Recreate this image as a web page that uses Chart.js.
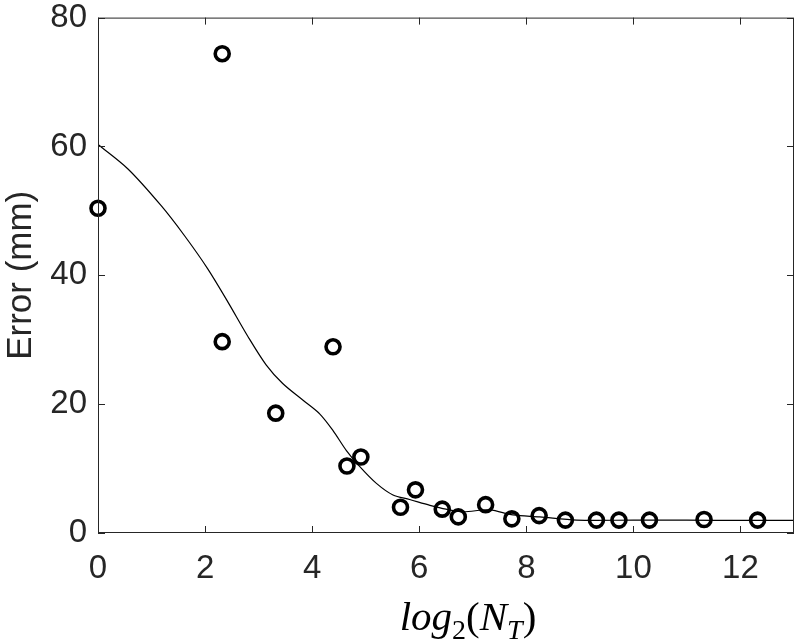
<!DOCTYPE html>
<html lang="en">
<head>
    <meta charset="UTF-8">
    <title>Error vs log2(NT)</title>
    <style>
        body { margin: 0; background: #fff; }
        canvas { display: block; }
    </style>
</head>
<body>
    <canvas id="myChart" width="800" height="643"></canvas>

    <script src="https://cdn.jsdelivr.net/npm/chart.js"></script>
    <script>
        // measured points
        const logN = [0, 2.32, 2.32, 3.32, 4.39, 4.65, 4.91, 5.65, 5.93, 6.43, 6.73, 7.24, 7.73, 8.24, 8.73, 9.31, 9.73, 10.3, 11.32, 12.32];
        const errMm = [50.4, 74.4, 29.7, 18.6, 28.9, 10.4, 11.8, 4.0, 6.7, 3.7, 2.5, 4.4, 2.2, 2.7, 2.0, 2.0, 2.0, 2.0, 2.1, 2.0];

        // fitted curve
        const fitX = [0, 0.56, 1.18, 1.62, 2.05, 2.43, 2.8, 3.14, 3.45, 3.83, 4.14, 4.39, 4.64, 4.89, 5.2, 5.51, 5.82, 6.2, 6.5, 6.82, 7.32, 7.75, 8.25, 8.94, 10, 11, 12, 13];
        const fitY = [60.3, 56.5, 50.8, 46.1, 41.0, 35.8, 30.5, 26.1, 23.2, 20.6, 18.5, 15.9, 12.8, 10.3, 7.7, 5.9, 5.2, 4.3, 3.7, 3.3, 3.6, 2.8, 2.5, 2.0, 2.0, 2.0, 1.95, 1.95];

        const xTicks = [0, 2, 4, 6, 8, 10, 12];
        const yTicks = [0, 20, 40, 60, 80];

        const axisColor = '#262626';
        const tickFont = { family: 'Liberation Sans, Arial, sans-serif', size: 33 };
        // small line height so the top label does not push the plot down
        const yTickFont = { family: 'Liberation Sans, Arial, sans-serif', size: 33, lineHeight: 0.4 };

        // box round the plot with inward ticks on all four sides, plus the x title
        const boxPlugin = {
            id: 'box',
            afterDraw(chart) {
                const c = chart.ctx;
                const a = chart.chartArea;
                const xs = chart.scales.x, ys = chart.scales.y;
                const len = 7;
                c.save();
                c.strokeStyle = axisColor;
                c.lineWidth = 1;
                c.strokeRect(a.left + 0.5, a.top + 0.5, a.right - a.left - 1, a.bottom - a.top - 1);
                c.beginPath();
                xTicks.forEach(v => {
                    const px = Math.round(xs.getPixelForValue(v)) + 0.5;
                    c.moveTo(px, a.bottom); c.lineTo(px, a.bottom - len);
                    c.moveTo(px, a.top); c.lineTo(px, a.top + len);
                });
                yTicks.forEach(v => {
                    const py = Math.round(ys.getPixelForValue(v)) + 0.5;
                    c.moveTo(a.left, py); c.lineTo(a.left + len, py);
                    c.moveTo(a.right, py); c.lineTo(a.right - len, py);
                });
                c.stroke();

                // x title: log2(NT) with subscripts
                const big = 41, small = 28;
                const parts = [
                    { t: 'log', f: 'italic ' + big + 'px "Liberation Serif", serif', dy: 0 },
                    { t: '2', f: small + 'px "Liberation Serif", serif', dy: 9 },
                    { t: '(', f: big + 'px "Liberation Serif", serif', dy: 0 },
                    { t: 'N', f: 'italic ' + big + 'px "Liberation Serif", serif', dy: 0 },
                    { t: 'T', f: 'italic ' + small + 'px "Liberation Serif", serif', dy: 9 },
                    { t: ')', f: big + 'px "Liberation Serif", serif', dy: 0 }
                ];
                let total = 0;
                parts.forEach(p => { c.font = p.f; p.w = c.measureText(p.t).width; total += p.w; });
                let x = 468 - total / 2;
                const base = 630;
                c.fillStyle = '#000';
                c.textBaseline = 'alphabetic';
                parts.forEach(p => {
                    c.font = p.f;
                    c.fillText(p.t, x, base + p.dy);
                    x += p.w;
                });
                c.restore();
            }
        };

        const ctx = document.getElementById('myChart').getContext('2d');
        const myChart = new Chart(ctx, {
            type: 'scatter',
            data: {
                datasets: [{
                    label: 'Fit',
                    data: fitX.map((x, i) => ({ x: x, y: fitY[i] })),
                    showLine: true,
                    borderColor: '#000',
                    borderWidth: 1.2,
                    pointRadius: 0,
                    tension: 0.3,
                    order: 2
                }, {
                    label: 'Error',
                    data: logN.map((x, i) => ({ x: x, y: errMm[i] })),
                    showLine: false,
                    clip: false,
                    pointStyle: 'circle',
                    pointRadius: 7,
                    pointBorderWidth: 3.6,
                    pointBorderColor: '#000',
                    pointBackgroundColor: 'rgba(0,0,0,0)',
                    order: 1
                }]
            },
            options: {
                responsive: false,
                animation: false,
                layout: { autoPadding: false, padding: { top: 16, right: 6, left: 0, bottom: 0 } },
                plugins: {
                    legend: { display: false },
                    tooltip: { enabled: false }
                },
                scales: {
                    x: {
                        type: 'linear',
                        min: 0,
                        max: 13,
                        afterBuildTicks: s => { s.ticks = xTicks.map(v => ({ value: v })); },
                        afterFit: s => { s.height = 110; },
                        grid: { display: false, drawTicks: false },
                        border: { display: false },
                        ticks: { color: axisColor, font: tickFont, padding: 16, maxRotation: 0 }
                    },
                    y: {
                        min: 0,
                        max: 80,
                        afterBuildTicks: s => { s.ticks = yTicks.map(v => ({ value: v })); },
                        afterFit: s => { s.width = 98; },
                        grid: { display: false, drawTicks: false },
                        border: { display: false },
                        ticks: { color: axisColor, font: yTickFont, padding: 11 },
                        title: {
                            display: true,
                            text: 'Error (mm)',
                            color: axisColor,
                            font: { family: 'Liberation Sans, Arial, sans-serif', size: 35 },
                            padding: 0
                        }
                    }
                }
            },
            plugins: [boxPlugin]
        });
    </script>
</body>
</html>
